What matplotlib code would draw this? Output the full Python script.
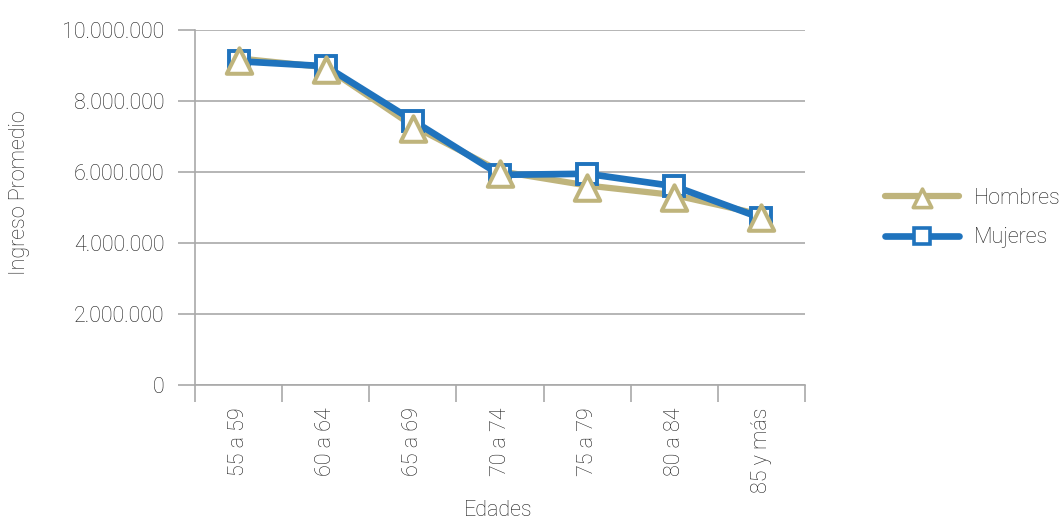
"""Average income by age group, men vs. women."""

import matplotlib.pyplot as plt
from matplotlib.lines import Line2D
from matplotlib.path import Path
from matplotlib.ticker import FuncFormatter

plt.rcParams["font.family"] = ["Roboto", "DejaVu Sans"]

edades = ["55 a 59", "60 a 64", "65 a 69", "70 a 74", "75 a 79", "80 a 84", "85 y más"]
hombres = [9200000, 8950000, 7300000, 6020000, 5620000, 5350000, 4800000]
mujeres = [9120000, 8980000, 7450000, 5920000, 5950000, 5600000, 4700000]

TAN = "#BFB47C"
BLUE = "#1F73BD"
GRID = "#A9A9A9"
TEXT = "#1E1E1E"
FS = 15.5
FW = "light"

# triangle anchored a bit above its centre so it hangs below the data point
TRIANGLE = Path([(0, 0.8), (-1, -1.2), (1, -1.2), (0, 0.8)],
                [Path.MOVETO, Path.LINETO, Path.LINETO, Path.CLOSEPOLY])

fig = plt.figure(figsize=(10.64, 5.2), dpi=100)
ax = fig.add_axes([195 / 1064, 1 - 385 / 520, 610 / 1064, 355 / 520])

x = list(range(len(edades)))
tri = dict(marker=TRIANGLE, ms=22, mfc="white", mec=TAN, mew=2.9)
sq = dict(marker="s", ms=14.5, mfc="white", mec=BLUE, mew=2.8)

# lines first, then markers on top (triangles last)
ax.plot(x, hombres, color=TAN, lw=4.5, zorder=2, solid_capstyle="round")
ax.plot(x, mujeres, color=BLUE, lw=4.8, zorder=3, solid_capstyle="round")
ax.plot(x, mujeres, ls="none", zorder=4, **sq)
ax.plot(x, hombres, ls="none", zorder=5, **tri)

ax.set_ylim(0, 10000000)
ax.set_yticks(range(0, 10000001, 2000000))
ax.yaxis.set_major_formatter(FuncFormatter(lambda v, _: f"{int(v):,}".replace(",", ".")))
ax.grid(axis="y", color=GRID, lw=1.2)
ax.set_axisbelow(True)

# category boundaries carry the tick marks, centres carry the labels
ax.set_xlim(-0.5, len(edades) - 0.5)
ax.set_xticks([i - 0.5 for i in range(len(edades) + 1)])
ax.set_xticklabels([])
ax.set_xticks(x, minor=True)
ax.set_xticklabels(edades, minor=True, rotation=90, fontsize=FS, color=TEXT,
                   fontweight=FW)
ax.tick_params(axis="x", which="major", length=12, width=1.2, color=GRID)
ax.tick_params(axis="x", which="minor", length=0, pad=16)
ax.tick_params(axis="y", length=12, width=1.2, color=GRID, pad=10)
for lbl in ax.get_yticklabels():
    lbl.set_fontsize(FS)
    lbl.set_color(TEXT)
    lbl.set_fontweight(FW)

for side in ("top", "right"):
    ax.spines[side].set_visible(False)
for side in ("left", "bottom"):
    ax.spines[side].set_color(GRID)
    ax.spines[side].set_linewidth(1.2)

fig.text(20 / 1064, 1 - 193 / 520, "Ingreso Promedio", fontsize=FS, color=TEXT,
         fontweight=FW, rotation=90, ha="center", va="center")
fig.text(498 / 1064, 1 - 510 / 520, "Edades", fontsize=FS, color=TEXT,
         fontweight=FW, ha="center", va="center")

handles = [
    Line2D([], [], color=TAN, lw=4.5, solid_capstyle="round",
           marker=TRIANGLE, ms=16, mfc="white", mec=TAN, mew=2.6),
    Line2D([], [], color=BLUE, lw=4.8, solid_capstyle="round",
           marker="s", ms=11.5, mfc="white", mec=BLUE, mew=2.6),
]
ax.legend(handles, ["Hombres", "Mujeres"], loc="center left",
          bbox_to_anchor=(1.1, 0.47), frameon=False,
          prop={"size": FS, "weight": FW}, labelcolor=TEXT,
          handlelength=3.4, handletextpad=0.7, labelspacing=0.85)

fig.savefig("out.png", dpi=100)
